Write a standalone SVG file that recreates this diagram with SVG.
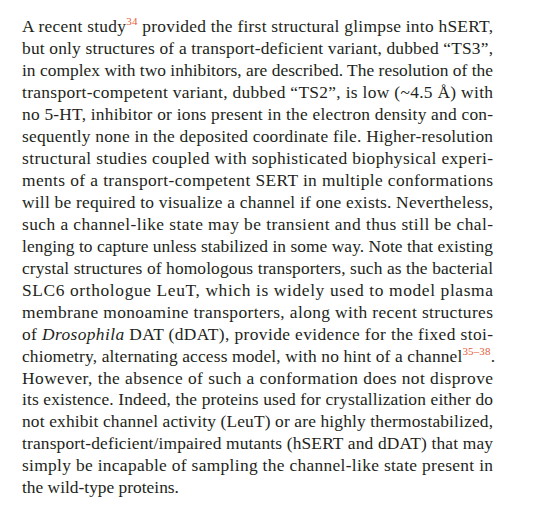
<svg xmlns="http://www.w3.org/2000/svg" width="533" height="512" viewBox="0 0 533 512">
<style>
.t{font-family:"Liberation Serif","Times New Roman",serif;font-size:17.4px;fill:#231f20}
.s{font-size:11px;fill:#e4603a}
</style>
<rect width="533" height="512" fill="#ffffff"/>
<g id="paragraph">
<text class="t" x="22" y="32.3" textLength="471" lengthAdjust="spacing">A recent study<tspan class="s" dy="-7">34</tspan><tspan dy="7"> provided the first structural glimpse into hSERT,</tspan></text>
<text class="t" x="22" y="54.25" textLength="471" lengthAdjust="spacing">but only structures of a transport-deficient variant, dubbed “TS3”,</text>
<text class="t" x="22" y="76.2" textLength="471" lengthAdjust="spacing">in complex with two inhibitors, are described. The resolution of the</text>
<text class="t" x="22" y="98.15" textLength="471" lengthAdjust="spacing">transport-competent variant, dubbed “TS2”, is low (~4.5 Å) with</text>
<text class="t" x="22" y="120.1" textLength="471" lengthAdjust="spacing">no 5-HT, inhibitor or ions present in the electron density and con-</text>
<text class="t" x="22" y="142.05" textLength="471" lengthAdjust="spacing">sequently none in the deposited coordinate file. Higher-resolution</text>
<text class="t" x="22" y="164" textLength="471" lengthAdjust="spacing">structural studies coupled with sophisticated biophysical experi-</text>
<text class="t" x="22" y="185.95" textLength="471" lengthAdjust="spacing">ments of a transport-competent SERT in multiple conformations</text>
<text class="t" x="22" y="207.9" textLength="471" lengthAdjust="spacing">will be required to visualize a channel if one exists. Nevertheless,</text>
<text class="t" x="22" y="229.85" textLength="471" lengthAdjust="spacing">such a channel-like state may be transient and thus still be chal-</text>
<text class="t" x="22" y="251.8" textLength="471" lengthAdjust="spacing">lenging to capture unless stabilized in some way. Note that existing</text>
<text class="t" x="22" y="273.75" textLength="471" lengthAdjust="spacing">crystal structures of homologous transporters, such as the bacterial</text>
<text class="t" x="22" y="295.7" textLength="471" lengthAdjust="spacing">SLC6 orthologue LeuT, which is widely used to model plasma</text>
<text class="t" x="22" y="317.65" textLength="471" lengthAdjust="spacing">membrane monoamine transporters, along with recent structures</text>
<text class="t" x="22" y="339.6" textLength="471" lengthAdjust="spacing">of <tspan font-style="italic">Drosophila</tspan> DAT (dDAT), provide evidence for the fixed stoi-</text>
<text class="t" x="22" y="361.55" textLength="473" lengthAdjust="spacing">chiometry, alternating access model, with no hint of a channel<tspan class="s" dy="-7">35–38</tspan><tspan dy="7">.</tspan></text>
<text class="t" x="22" y="383.5" textLength="471" lengthAdjust="spacing">However, the absence of such a conformation does not disprove</text>
<text class="t" x="22" y="405.45" textLength="471" lengthAdjust="spacing">its existence. Indeed, the proteins used for crystallization either do</text>
<text class="t" x="22" y="427.4" textLength="471" lengthAdjust="spacing">not exhibit channel activity (LeuT) or are highly thermostabilized,</text>
<text class="t" x="22" y="449.35" textLength="471" lengthAdjust="spacing">transport-deficient/impaired mutants (hSERT and dDAT) that may</text>
<text class="t" x="22" y="471.3" textLength="471" lengthAdjust="spacing">simply be incapable of sampling the channel-like state present in</text>
<text class="t" x="22" y="493.25">the wild-type proteins.</text>
</g>
</svg>
